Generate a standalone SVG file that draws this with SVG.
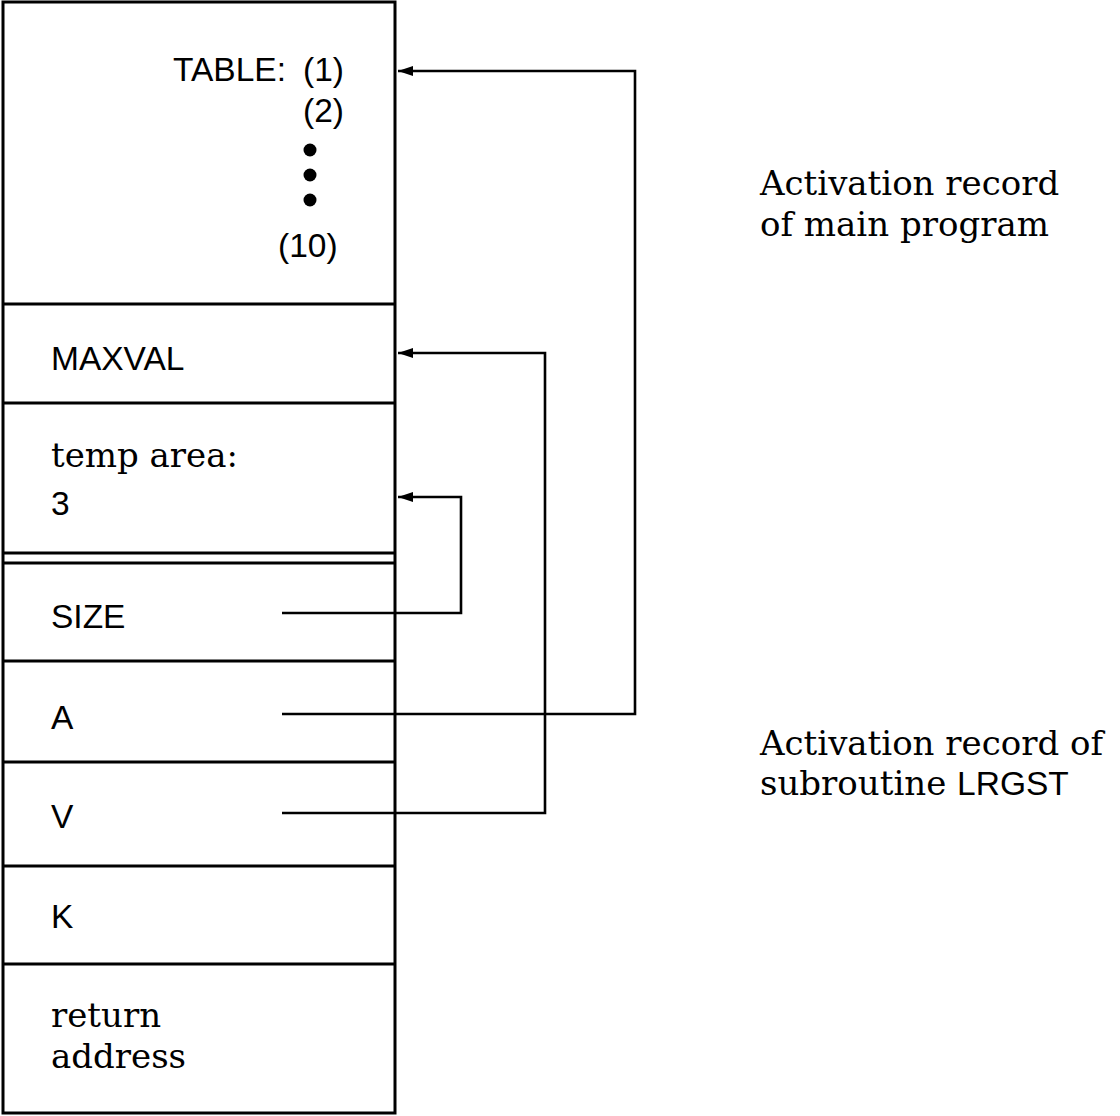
<svg xmlns="http://www.w3.org/2000/svg" width="1120" height="1116" viewBox="0 0 1120 1116">
<style>
.box{fill:none;stroke:#000;stroke-width:3}
.sep{stroke:#000;stroke-width:3}
.sans{font-family:"Liberation Sans",Arial,sans-serif;font-size:33.5px;fill:#000}
.serif{font-family:"DejaVu Serif","Liberation Serif",serif;font-size:34px;fill:#000}
.conn{fill:none;stroke:#000;stroke-width:2.6}
</style>
<defs>
<marker id="arr" markerUnits="userSpaceOnUse" markerWidth="18" markerHeight="12" refX="15" refY="6" orient="auto">
<path d="M0,1 L15,6 L0,11 Z" fill="#000"/>
</marker>
</defs>
<rect width="1120" height="1116" fill="#fff"/>
<g id="stack">
<rect class="box" x="3" y="2" width="392" height="1111"/>
<line class="sep" x1="3" y1="304" x2="395" y2="304"/>
<line class="sep" x1="3" y1="403" x2="395" y2="403"/>
<line class="sep" x1="3" y1="553" x2="395" y2="553"/>
<line class="sep" x1="3" y1="563" x2="395" y2="563"/>
<line class="sep" x1="3" y1="661" x2="395" y2="661"/>
<line class="sep" x1="3" y1="762" x2="395" y2="762"/>
<line class="sep" x1="3" y1="866" x2="395" y2="866"/>
<line class="sep" x1="3" y1="964" x2="395" y2="964"/>
</g>
<g id="table">
<text class="sans" x="173" y="81">TABLE:</text>
<text class="sans" x="303" y="81">(1)</text>
<text class="sans" x="303" y="122">(2)</text>
<circle cx="310" cy="150" r="6.5"/>
<circle cx="310" cy="175" r="6.5"/>
<circle cx="310" cy="200" r="6.5"/>
<text class="sans" x="278" y="257">(10)</text>
</g>
<g id="maxval"><text class="sans" x="51" y="370">MAXVAL</text></g>
<g id="temp"><text class="serif" x="51" y="467">temp area:</text><text class="sans" x="51" y="515">3</text></g>
<g id="size"><text class="sans" x="51" y="628">SIZE</text></g>
<g id="a"><text class="sans" x="51" y="729">A</text></g>
<g id="v"><text class="sans" x="51" y="828">V</text></g>
<g id="k"><text class="sans" x="51" y="928">K</text></g>
<g id="ret"><text class="serif" x="51" y="1027">return</text><text class="serif" x="51" y="1068">address</text></g>
<g id="label-main"><text class="serif" x="760" y="195">Activation record</text><text class="serif" x="760" y="236">of main program</text></g>
<g id="label-sub"><text class="serif" x="760" y="755">Activation record of</text><text class="serif" x="760" y="795">subroutine <tspan class="sans">LRGST</tspan></text></g>
<g id="connectors">
<path class="conn" d="M282,714 H635 V71 H398" marker-end="url(#arr)"/>
<path class="conn" d="M282,813 H545 V353 H398" marker-end="url(#arr)"/>
<path class="conn" d="M282,613 H461 V497 H398" marker-end="url(#arr)"/>
</g>
</svg>
